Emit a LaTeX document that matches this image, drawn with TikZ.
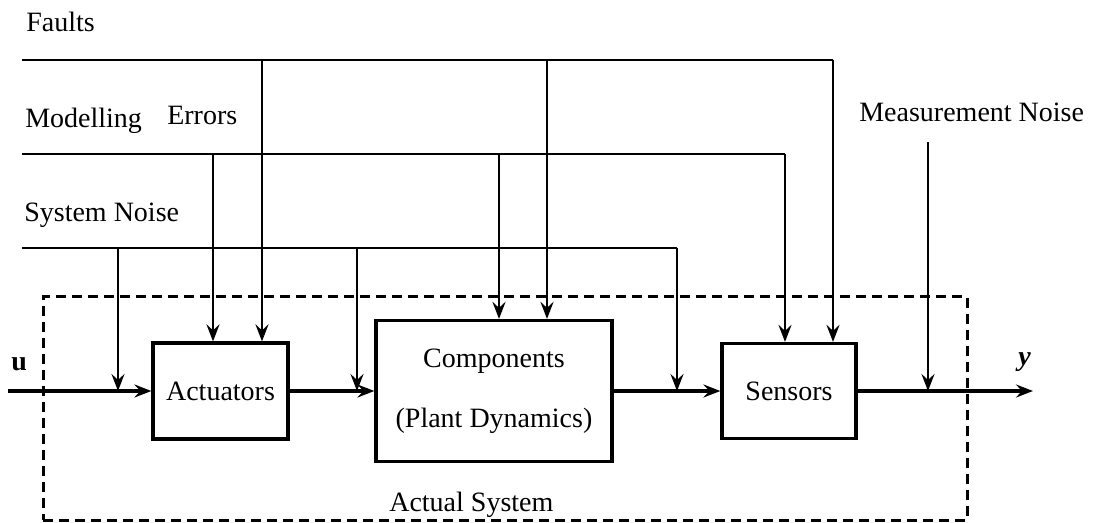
\documentclass[tikz,border=0pt]{standalone}
\usepackage{fontspec}
\setmainfont{Liberation Serif}
\usetikzlibrary{arrows.meta,positioning}

\begin{document}
\begin{tikzpicture}[x=0.5pt,y=-0.5pt,line width=1.3pt,>={Stealth[length=8.5pt,width=6.5pt,inset=3pt]},
  font=\fontsize{14}{17}\selectfont]
  \tikzstyle{block}=[draw,rectangle,line width=1.6pt,inner sep=2pt,align=center]
  \tikzstyle{lbl}=[inner sep=0pt,anchor=base west]
  \useasboundingbox (0,0) rectangle (1102,523);
  \node[draw,dashed,line width=1.5pt,dash pattern=on 5pt off 3pt,minimum width=462pt,minimum height=111.5pt] (sys) at (505,408.5) {};
  \node[block,minimum width=67.5pt,minimum height=48pt] (act) at (220.5,391) {Actuators};
  \node[block,minimum width=118pt,minimum height=70.5pt] (comp) at (494,391) {Components\\[13pt](Plant Dynamics)};
  \node[block,minimum width=67pt,minimum height=47.5pt] (sens) at (789,391) {Sensors};
  \node[lbl] (faults) at (25,32) {Faults};
  \node[lbl] (model) at (24,128) {Modelling};
  \node[lbl] (errors) at (166,125) {Errors};
  \node[lbl] (sysnoise) at (23,222) {System Noise};
  \node[lbl] (measnoise) at (858,122) {Measurement Noise};
  \node[lbl] (ulbl) at (10,371) {\textbf{u}};
  \node[lbl] (ylbl) at (1017,365) {\textbf{\textit{y}}};
  \node[lbl] (actual) at (388,511) {Actual System};
  \coordinate (u) at (8,391);
  \coordinate (y) at (1033,391);
  \coordinate (fl) at (22,60);
  \coordinate (fa) at (262,60);
  \coordinate (fc) at (547,60);
  \coordinate (fs) at (833,60);
  \coordinate (ml) at (22,154);
  \coordinate (ma) at (213,154);
  \coordinate (mc) at (499,154);
  \coordinate (ms) at (785,154);
  \coordinate (sl) at (22,248);
  \coordinate (s1) at (118,248);
  \coordinate (s2) at (357,248);
  \coordinate (s3) at (677,248);
  \coordinate (mn) at (928,142);
  \draw[->,line width=1.6pt] (u) -- (act);
  \draw[->,line width=1.6pt] (act) -- (comp);
  \draw[->,line width=1.6pt] (comp) -- (sens);
  \draw[->,line width=1.6pt] (sens) -- (y);
  \draw (fl) -- (fs);
  \draw[->] (fa) -- (fa |- act.north);
  \draw[->] (fc) -- (fc |- comp.north);
  \draw[->] (fs) -- (fs |- sens.north);
  \draw (ml) -- (ms);
  \draw[->] (ma) -- (ma |- act.north);
  \draw[->] (mc) -- (mc |- comp.north);
  \draw[->] (ms) -- (ms |- sens.north);
  \draw (sl) -- (s3);
  \draw[->] (s1) -- (s1 |- u);
  \draw[->] (s2) -- (s2 |- u);
  \draw[->] (s3) -- (s3 |- u);
  \draw[->] (mn) -- (mn |- y);
\end{tikzpicture}
\end{document}
